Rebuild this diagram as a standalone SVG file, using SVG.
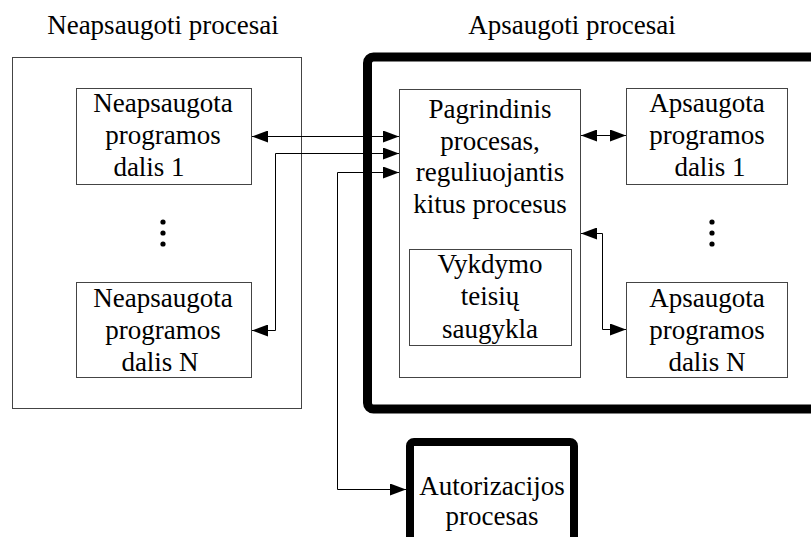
<svg xmlns="http://www.w3.org/2000/svg" width="811" height="537" viewBox="0 0 811 537">
  <style>
    text { font-family: "Liberation Serif", "Times New Roman", serif; font-size: 27px; fill: #000; text-anchor: middle; }
    .box { fill: #fff; stroke: #444; stroke-width: 1; }
    .thick { fill: none; stroke: #000; stroke-width: 9; }
    .wire { fill: none; stroke: #000; stroke-width: 1; }
    .dot { fill: #000; }
  </style>
  <defs>
    <marker id="arrow" viewBox="0 0 16 12" refX="16" refY="6" markerWidth="16" markerHeight="12" markerUnits="userSpaceOnUse" orient="auto-start-reverse">
      <path d="M0,0 L16,6 L0,12 Z" fill="#000"/>
    </marker>
  </defs>

  <!-- group titles -->
  <text x="163" y="34">Neapsaugoti procesai</text>
  <text x="572" y="34">Apsaugoti procesai</text>

  <!-- unprotected area -->
  <g id="unprotected">
    <rect class="box" x="12.5" y="57.5" width="289" height="351"/>
  </g>

  <!-- protected area (thick frame runs off the right edge) -->
  <g id="protected">
    <rect class="thick" x="367.5" y="57" width="470" height="352" rx="6"/>
  </g>

  <g id="unprot1">
    <rect class="box" x="76.5" y="88.5" width="175" height="96"/>
    <text x="163" y="112">Neapsaugota</text>
    <text x="163" y="144">programos</text>
    <text x="149" y="176">dalis 1</text>
  </g>

  <g id="dots-left">
    <circle class="dot" cx="163" cy="222" r="2.6"/>
    <circle class="dot" cx="163" cy="233" r="2.6"/>
    <circle class="dot" cx="163" cy="244" r="2.6"/>
  </g>

  <g id="unprotN">
    <rect class="box" x="76.5" y="282.5" width="175" height="95"/>
    <text x="163" y="307">Neapsaugota</text>
    <text x="163" y="339">programos</text>
    <text x="160" y="371">dalis N</text>
  </g>

  <g id="main">
    <rect class="box" x="399.5" y="89.5" width="181" height="288"/>
    <text x="490" y="118">Pagrindinis</text>
    <text x="490" y="149.5">procesas,</text>
    <text x="490" y="181">reguliuojantis</text>
    <text x="490" y="213">kitus procesus</text>
  </g>

  <g id="rights">
    <rect class="box" x="409.5" y="249.5" width="162" height="96"/>
    <text x="490" y="273">Vykdymo</text>
    <text x="490" y="305">teisių</text>
    <text x="490" y="338">saugykla</text>
  </g>

  <g id="prot1">
    <rect class="box" x="626.5" y="88.5" width="161" height="96"/>
    <text x="707" y="112">Apsaugota</text>
    <text x="707" y="144">programos</text>
    <text x="710" y="176">dalis 1</text>
  </g>

  <g id="dots-right">
    <circle class="dot" cx="712" cy="222" r="2.6"/>
    <circle class="dot" cx="712" cy="233" r="2.6"/>
    <circle class="dot" cx="712" cy="244" r="2.6"/>
  </g>

  <g id="protN">
    <rect class="box" x="626.5" y="282.5" width="161" height="95"/>
    <text x="707" y="307">Apsaugota</text>
    <text x="707" y="339">programos</text>
    <text x="707" y="371">dalis N</text>
  </g>

  <g id="auth">
    <rect x="410" y="442" width="164" height="110" fill="#fff" stroke="#000" stroke-width="8" rx="4"/>
    <text x="492" y="495">Autorizacijos</text>
    <text x="492" y="525">procesas</text>
  </g>

  <!-- connectors -->
  <g id="connectors">
    <path class="wire" d="M252,136.5 H399" marker-start="url(#arrow)" marker-end="url(#arrow)"/>
    <path class="wire" d="M252,330.5 H275.5 V153.5 H399" marker-start="url(#arrow)" marker-end="url(#arrow)"/>
    <path class="wire" d="M399,172.5 H337.5 V489.5 H406" marker-start="url(#arrow)" marker-end="url(#arrow)"/>
    <path class="wire" d="M581,135.5 H626" marker-start="url(#arrow)" marker-end="url(#arrow)"/>
    <path class="wire" d="M581,233.5 H602.5 V329.5 H626" marker-start="url(#arrow)" marker-end="url(#arrow)"/>
  </g>
</svg>
